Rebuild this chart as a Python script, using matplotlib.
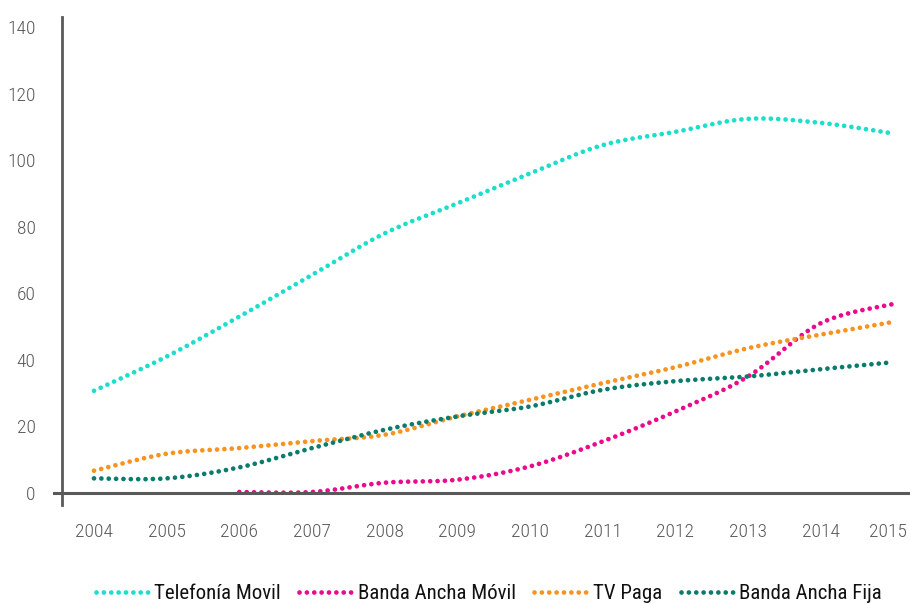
import numpy as np
import matplotlib.pyplot as plt
from matplotlib.transforms import ScaledTranslation

# Data
years = [2004, 2005, 2006, 2007, 2008, 2009, 2010, 2011, 2012, 2013, 2014, 2015]
telefonia_movil = [30.7, 41, 53, 65.5, 78, 87, 96, 104.5, 108.5, 112.4, 111.2, 108]
banda_ancha_movil = [None, None, 0.3, 0.3, 3.1, 4, 8, 15.5, 24.5, 35, 51, 56.8]
tv_paga = [6.7, 11.8, 13.5, 15.6, 17.5, 23, 28, 33, 37.8, 43.5, 47.6, 51.4]
banda_ancha_fija = [4.4, 4.4, 7.7, 13.5, 19, 23, 26, 31, 33.6, 35, 37.2, 39.3]

series_names = ["Telefonía Movil", "Banda Ancha Móvil", "TV Paga", "Banda Ancha Fija"]
colors = ["#1BDECB", "#EC0A8C", "#F7931E", "#0B7B6C"]

plt.rcParams['font.family'] = ['Roboto Condensed', 'Liberation Sans Narrow', 'DejaVu Sans']


def smooth(x, y, n=30):
    # Catmull-Rom curve through the points (like Excel's smoothed line)
    x = np.asarray(x, float)
    y = np.asarray(y, float)
    px = np.concatenate([[x[0]], x, [x[-1]]])
    py = np.concatenate([[y[0]], y, [y[-1]]])
    xs, ys = [], []
    t = np.linspace(0, 1, n, endpoint=False)
    for i in range(1, len(px) - 2):
        for p, out in ((px, xs), (py, ys)):
            p0, p1, p2, p3 = p[i - 1], p[i], p[i + 1], p[i + 2]
            out.extend(0.5 * ((2 * p1) + (-p0 + p2) * t
                              + (2 * p0 - 5 * p1 + 4 * p2 - p3) * t ** 2
                              + (-p0 + 3 * p1 - 3 * p2 + p3) * t ** 3))
    xs.append(x[-1])
    ys.append(y[-1])
    return xs, ys


fig = plt.figure(figsize=(9.1, 6.04), dpi=100)
ax = fig.add_axes([62 / 910, 1 - 505 / 604, 1 - 62 / 910, (505 - 17) / 604])

for name, vals, c in zip(series_names,
                         [telefonia_movil, banda_ancha_movil, tv_paga, banda_ancha_fija],
                         colors):
    xv = [yr for yr, v in zip(years, vals) if v is not None]
    yv = [v for v in vals if v is not None]
    sx, sy = smooth(xv, yv)
    ax.plot(sx, sy, color=c, lw=3.4, linestyle=(0, (0.01, 1.55)),
            dash_capstyle='round', label=name)

ax.set_xlim(2003.56, 2015.23)
ax.set_ylim(-3.6, 143)
ax.set_yticks(range(0, 141, 20))
ax.set_xticks(years)

for s in ['top', 'right', 'bottom']:
    ax.spines[s].set_visible(False)
ax.spines['left'].set_color('#595959')
ax.spines['left'].set_linewidth(2)
ax.axhline(0, xmin=-0.009, xmax=1, color='#595959', lw=2.2, clip_on=False)

ax.tick_params(axis='both', length=0, labelsize=14, labelcolor='#595959')
for lab in ax.get_xticklabels() + ax.get_yticklabels():
    lab.set_fontweight('light')
ax.tick_params(axis='y', pad=19)
ax.tick_params(axis='x', pad=13)

# keep the last year label inside the canvas
last = ax.get_xticklabels()[-1]
last.set_transform(last.get_transform() + ScaledTranslation(-5 / 100, 0, fig.dpi_scale_trans))

leg = fig.legend(loc='lower center', bbox_to_anchor=(0.537, -0.03), ncol=4,
                 frameon=False, fontsize=15, handlelength=2.5,
                 columnspacing=0.9, handletextpad=0.3)
for t in leg.get_texts():
    t.set_color('#111111')

fig.savefig('out.png', dpi=100)
